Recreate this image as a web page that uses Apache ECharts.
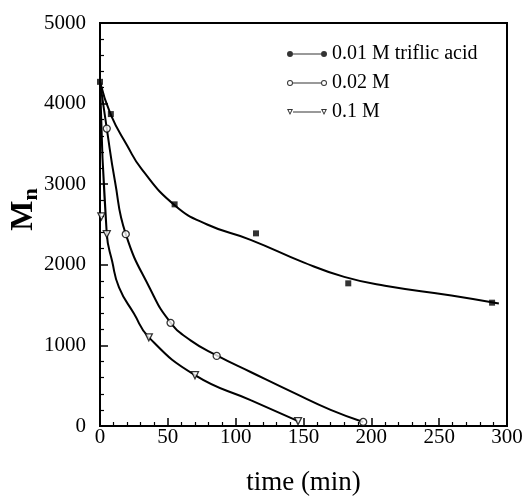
<!DOCTYPE html>
<html>
<head>
<meta charset="utf-8">
<script src="https://cdn.jsdelivr.net/npm/echarts@6/dist/echarts.min.js"></script>
<style>html,body{margin:0;padding:0;background:#fff}#c{width:525px;height:502px}</style>
</head>
<body>
<div id="c"></div>
<script>
// Measured data points
var names = ['0.01 M triflic acid', '0.02 M', '0.1 M'];
var t1 = [0, 8, 55, 115, 183, 289];
var m1 = [4270, 3870, 2750, 2390, 1770, 1530];
var t2 = [5, 19, 52, 86, 194];
var m2 = [3690, 2380, 1280, 870, 50];
var t3 = [1, 5, 36, 70, 146];
var m3 = [2600, 2380, 1100, 630, 60];
// Fitted curves
var f1t = [0, 8, 20, 31, 55, 79, 111, 150, 180, 210, 259, 294];
var f1m = [4270, 3860, 3480, 3180, 2740, 2500, 2310, 2030, 1850, 1740, 1620, 1520];
var f2t = [0, 5, 11, 19, 37, 52, 67, 86, 111, 143, 170, 194];
var f2m = [4270, 3690, 3040, 2380, 1700, 1284, 1060, 876, 670, 410, 200, 50];
var f3t = [0, 5, 9, 14, 25, 36, 70, 111, 146];
var f3m = [4270, 2380, 2040, 1720, 1395, 1100, 630, 320, 60];
var xTicks = [0, 50, 100, 150, 200, 250, 300];
var yTicks = [0, 1000, 2000, 3000, 4000, 5000];

function pairs(a, b) { return a.map(function (v, i) { return [v, b[i]]; }); }

var FONT = 'Liberation Serif';
var chart = echarts.init(document.getElementById('c'));

var iconFilled = 'path://M0,5A3,3 0 1,1 6,5A3,3 0 1,1 0,5Z M6,4.4L34,4.4L34,5.6L6,5.6Z M34,5A3,3 0 1,1 40,5A3,3 0 1,1 34,5Z';
var iconOpen = 'path://M0,5A3,3 0 1,1 6,5A3,3 0 1,1 0,5Z M1,5A2,2 0 1,0 5,5A2,2 0 1,0 1,5Z M6,4.4L34,4.4L34,5.6L6,5.6Z M34,5A3,3 0 1,1 40,5A3,3 0 1,1 34,5Z M35,5A2,2 0 1,0 39,5A2,2 0 1,0 35,5Z';
var iconTri = 'path://M0,2L6,2L3,8Z M1.6,2.9L3,6L4.4,2.9Z M6,4.4L34,4.4L34,5.6L6,5.6Z M34,2L40,2L37,8Z M35.6,2.9L37,6L38.4,2.9Z';

var axisCommon = {
  type: 'value',
  axisLine: { show: true, lineStyle: { color: '#000', width: 2 } },
  axisTick: { show: true, inside: true, length: 8, lineStyle: { color: '#000', width: 1.5 } },
  minorTick: { show: true, splitNumber: 5, length: 4, lineStyle: { color: '#000', width: 1.2 } },
  splitLine: { show: false },
  axisLabel: { color: '#000', fontFamily: FONT, fontSize: 21, formatter: function (v) { return String(v); } }
};

var option = {
  animation: false,
  backgroundColor: '#fff',
  grid: { left: 100, right: 18, top: 23, bottom: 76, containLabel: false, outerBoundsMode: 'none', show: true, borderColor: '#000', borderWidth: 2, backgroundColor: 'transparent' },
  xAxis: Object.assign({}, axisCommon, {
    min: xTicks[0], max: xTicks[xTicks.length - 1], interval: 50,
    axisLabel: Object.assign({}, axisCommon.axisLabel, { margin: 1 }),
    name: 'time (min)', nameLocation: 'middle', nameGap: 43, nameMoveOverlap: false,
    nameTextStyle: { color: '#000', fontFamily: FONT, fontSize: 27 }
  }),
  yAxis: Object.assign({}, axisCommon, {
    min: yTicks[0], max: yTicks[yTicks.length - 1], interval: 1000,
    axisLabel: Object.assign({}, axisCommon.axisLabel, { margin: 14 }),
    name: '{m|M}{s|n}', nameLocation: 'middle', nameGap: 58, nameRotate: 90, nameMoveOverlap: false,
    nameTextStyle: {
      color: '#000', fontFamily: FONT, padding: [0, 0, 0, 30],
      rich: {
        m: { fontFamily: FONT, fontSize: 32, fontWeight: 'bold', color: '#000' },
        s: { fontFamily: FONT, fontSize: 22, fontWeight: 'bold', color: '#000', verticalAlign: 'bottom', padding: [14, 0, 0, 0] }
      }
    }
  }),
  legend: {
    orient: 'vertical', left: 282, top: 39, itemWidth: 40, itemHeight: 10, itemGap: 9,
    textStyle: { color: '#000', fontFamily: FONT, fontSize: 20 },
    data: [
      { name: names[0], icon: iconFilled, itemStyle: { color: '#000', borderWidth: 0 } },
      { name: names[1], icon: iconOpen, itemStyle: { color: '#000', borderWidth: 0 } },
      { name: names[2], icon: iconTri, itemStyle: { color: '#000', borderWidth: 0 } }
    ]
  },
  series: [
    { type: 'line', name: 'fit1', data: pairs(f1t, f1m), smooth: 0.5, showSymbol: false, lineStyle: { color: '#000', width: 2 }, z: 2 },
    { type: 'line', name: 'fit2', data: pairs(f2t, f2m), smooth: 0.5, showSymbol: false, lineStyle: { color: '#000', width: 2 }, z: 2 },
    { type: 'line', name: 'fit3', data: pairs(f3t, f3m), smooth: 0.5, showSymbol: false, lineStyle: { color: '#000', width: 2 }, z: 2 },
    { type: 'scatter', name: names[0], data: pairs(t1, m1), symbol: 'rect', symbolSize: 6, itemStyle: { color: '#000' }, z: 5 },
    { type: 'scatter', name: names[1], data: pairs(t2, m2), symbol: 'circle', symbolSize: 7, itemStyle: { color: '#fff', borderColor: '#000', borderWidth: 1.3 }, z: 5 },
    { type: 'scatter', name: names[2], data: pairs(t3, m3), symbol: 'triangle', symbolRotate: 180, symbolSize: 7, itemStyle: { color: '#fff', borderColor: '#000', borderWidth: 1.3 }, z: 5 }
  ]
};
chart.setOption(option);
</script>
</body>
</html>
